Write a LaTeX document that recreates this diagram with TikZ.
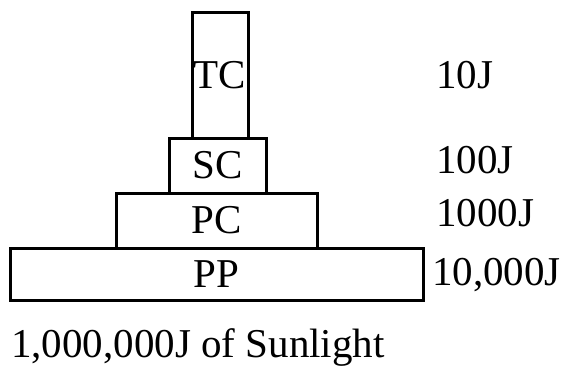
\documentclass[tikz,border=0pt]{standalone}
\usepackage{fontspec}
\setmainfont{Liberation Serif}
\usetikzlibrary{positioning}

\begin{document}
\begin{tikzpicture}[
  x=1pt, y=-1pt,
  node distance=0pt,
  lvl/.style={rectangle, draw=black, line width=3pt, outer sep=0pt, inner sep=0pt,
              font=\fontsize{41}{48}\selectfont},
  nrg/.style={anchor=west, inner sep=0pt, font=\fontsize{41}{48}\selectfont}
]
\useasboundingbox (0,0) rectangle (569,373);

\node[lvl, minimum width=56pt, minimum height=126pt] (tc) at (220,75) {TC};
\node[lvl, minimum width=97pt, minimum height=55pt, below=of tc, xshift=-2.5pt] (sc) {SC};
\node[lvl, minimum width=201pt, minimum height=55pt, below=of sc, xshift=-1pt] (pc) {PC};
\node[lvl, minimum width=413pt, minimum height=52pt, below=of pc] (pp) {PP};

\node[nrg] (e4) at (436,75) {10J};
\node[nrg] (e3) at (436,160) {100J};
\node[nrg] (e2) at (436,213) {1000J};
\node[nrg] (e1) at (432,275) {10,000J};

\node[nrg] (sun) at (11,347) {1,000,000J of Sunlight};

\end{tikzpicture}
\end{document}
